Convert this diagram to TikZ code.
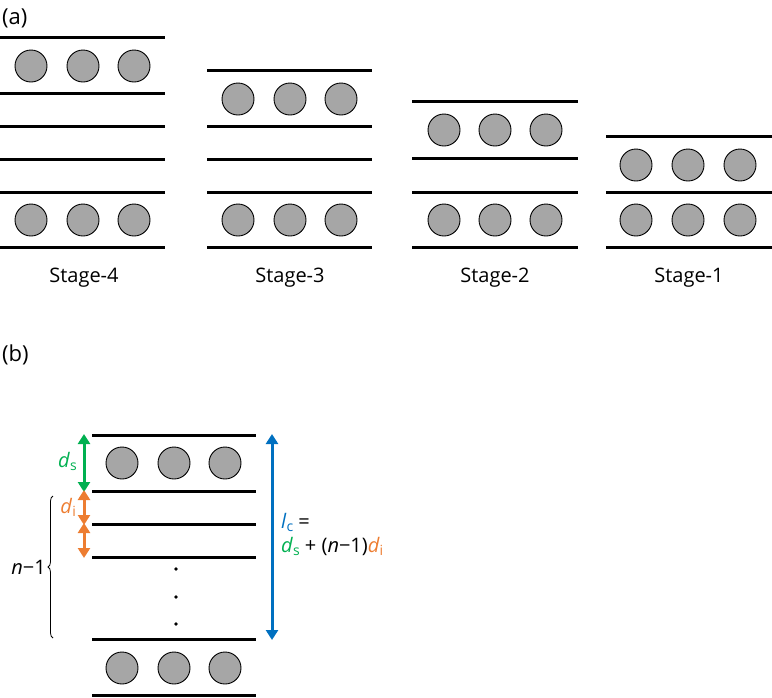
\documentclass[tikz,border=0pt]{standalone}
\usepackage{fontspec}
\setmainfont{Open Sans}
\usetikzlibrary{arrows.meta,decorations.pathreplacing}
\definecolor{cgreen}{HTML}{00B050}
\definecolor{corange}{HTML}{ED7D31}
\definecolor{cblue}{HTML}{0070C0}
\definecolor{cgray}{HTML}{A6A6A6}
\tikzset{
  plate/.style={line width=3pt, black},
  ball/.style={circle, draw=black, line width=0.9pt, fill=cgray, minimum size=32pt, inner sep=0pt},
  lbl/.style={font=\fontsize{20}{24}\selectfont, inner sep=0pt},
  dimarrow/.style={line width=3pt, {Triangle[width=12pt,length=10pt]}-{Triangle[width=12pt,length=10pt]}, shorten <=-1pt, shorten >=-1pt},
}
\newcommand{\sub}[1]{\raisebox{-0.3ex}{\fontsize{14}{16}\selectfont #1}}
\begin{document}
\begin{tikzpicture}[x=1pt,y=-1pt]
\useasboundingbox (0,0) rectangle (772,697);
% (a)
\node[lbl, font=\fontsize{22}{26}\selectfont, anchor=west] (la) at (2,18) {(a)};
% Stage-4
\foreach \y in {37,93,126,159,192,247} \draw[plate] (0,\y) -- (165,\y);
\node[ball] (s4a) at (31,66) {};\node[ball] (s4b) at (83,66) {};\node[ball] (s4c) at (134,66) {};
\node[ball] (s4d) at (31,220) {};\node[ball] (s4e) at (83,220) {};\node[ball] (s4f) at (134,220) {};
\node[lbl] (t4) at (84,278) {Stage-4};
% Stage-3
\foreach \y in {70,126,159,192,247} \draw[plate] (207,\y) -- (372,\y);
\node[ball] (s3a) at (238,99) {};\node[ball] (s3b) at (290,99) {};\node[ball] (s3c) at (341,99) {};
\node[ball] (s3d) at (238,220) {};\node[ball] (s3e) at (290,220) {};\node[ball] (s3f) at (341,220) {};
\node[lbl] (t3) at (290,278) {Stage-3};
% Stage-2
\foreach \y in {101,158,192,247} \draw[plate] (412,\y) -- (578,\y);
\node[ball] (s2a) at (444,130) {};\node[ball] (s2b) at (495,130) {};\node[ball] (s2c) at (546,130) {};
\node[ball] (s2d) at (444,220) {};\node[ball] (s2e) at (495,220) {};\node[ball] (s2f) at (546,220) {};
\node[lbl] (t2) at (495,278) {Stage-2};
% Stage-1
\foreach \y in {136,192,247} \draw[plate] (606,\y) -- (772,\y);
\node[ball] (s1a) at (636,165) {};\node[ball] (s1b) at (688,165) {};\node[ball] (s1c) at (740,165) {};
\node[ball] (s1d) at (636,220) {};\node[ball] (s1e) at (688,220) {};\node[ball] (s1f) at (740,220) {};
\node[lbl] (t1) at (689,278) {Stage-1};
% (b)
\node[lbl, font=\fontsize{22}{26}\selectfont, anchor=west] (lb) at (2,355) {(b)};
\foreach \y in {435,491,524,557,639,695} \draw[plate] (92,\y) -- (256,\y);
\node[ball] (ba) at (122,463) {};\node[ball] (bb) at (174,463) {};\node[ball] (bc) at (225,463) {};
\node[ball] (bd) at (122,668) {};\node[ball] (be) at (174,668) {};\node[ball] (bf) at (225,668) {};
\foreach \y/\n in {569/d1,597/d2,624/d3} \fill (176,\y) circle (1.9pt) coordinate (\n);
% dimension arrows
\coordinate (g1) at (84,435); \coordinate (g2) at (84,491);
\coordinate (o1) at (84,491); \coordinate (o2) at (84,524); \coordinate (o3) at (84,557);
\coordinate (b1) at (272,435); \coordinate (b2) at (272,639);
\draw[dimarrow, cgreen] (g1) -- (g2);
\draw[dimarrow, corange] (o1) -- (o2);
\draw[dimarrow, corange] (o2) -- (o3);
\draw[dimarrow, cblue] (b1) -- (b2);
\node[lbl, text=cgreen, anchor=base east] (ds) at (77,467) {\textit{d}\sub{s}};
\node[lbl, text=corange, anchor=base east] (di) at (76,513) {\textit{d}\sub{i}};
% brace
\coordinate (br1) at (53,638); \coordinate (br2) at (53,496);
\draw[line width=0.8pt, decorate, decoration={brace, amplitude=5pt}] (br1) -- (br2);
\node[lbl, anchor=base east] (nm) at (46,574) {\textit{n}−1};
% formula
\node[lbl, anchor=base west] (lc) at (281,528) {\textcolor{cblue}{\textit{l}\sub{c}} =};
\node[lbl, anchor=base west] (form) at (281,552) {\textcolor{cgreen}{\textit{d}\sub{s}} + (\textit{n}−1)\textcolor{corange}{\textit{d}\sub{i}}};
\end{tikzpicture}
\end{document}
